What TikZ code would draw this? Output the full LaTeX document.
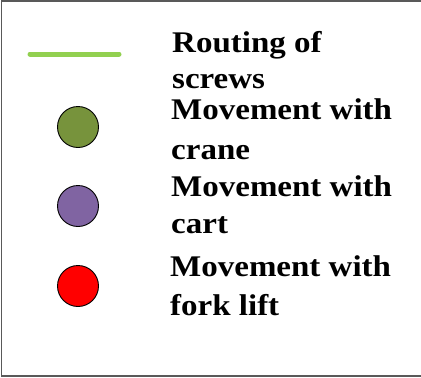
\documentclass[tikz,border=0pt]{standalone}
\usepackage{fontspec}
\setmainfont{Liberation Serif}[FakeStretch=1.1]
\definecolor{routegreen}{HTML}{92D050}
\definecolor{craneolive}{HTML}{77933C}
\definecolor{cartpurple}{HTML}{8064A2}
\definecolor{forkred}{HTML}{FF0000}
\definecolor{framegray}{HTML}{595959}
\begin{document}
\begin{tikzpicture}[x=1pt,y=-1pt,
  dot/.style={circle,draw=black,line width=0.9pt,minimum size=41pt,inner sep=0pt},
  label/.style={anchor=base west,inner sep=0pt,font=\fontsize{30}{36}\selectfont\bfseries},
  frameline/.style={draw=framegray,line width=1.6pt}]
\useasboundingbox (0,0) rectangle (421,378);
\draw[frameline] (423,1) -- (1.5,1) -- (1.5,376) -- (423,376);
\coordinate (g1) at (30,54);
\coordinate (g2) at (119,54);
\draw[routegreen,line width=5pt,line cap=round] (g1) -- (g2);
\node[dot,fill=craneolive] (c1) at (78,127) {};
\node[dot,fill=cartpurple] (c2) at (78,206) {};
\node[dot,fill=forkred] (c3) at (78,286) {};
\node[label] (t1a) at (172,52.3) {Routing of};
\node[label] (t1b) at (172,88.3) {screws};
\node[label] (t2a) at (171,119.3) {Movement with};
\node[label] (t2b) at (171,159) {crane};
\node[label] (t3a) at (171,196.7) {Movement with};
\node[label] (t3b) at (171,233.3) {cart};
\node[label] (t4a) at (170,276.7) {Movement with};
\node[label] (t4b) at (170,315.7) {fork lift};
\end{tikzpicture}
\end{document}
